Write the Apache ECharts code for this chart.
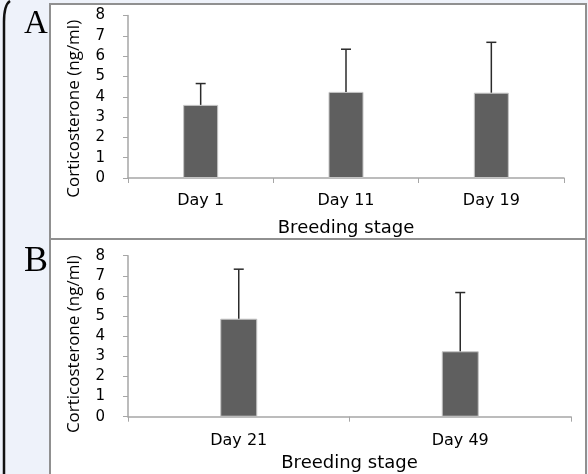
<!DOCTYPE html>
<html>
<head>
<meta charset="utf-8">
<script src="https://cdn.jsdelivr.net/npm/echarts@6/dist/echarts.min.js"></script>
<style>
html,body{margin:0;padding:0;background:#eef2fa;}
#chart{width:588px;height:474px;}
</style>
</head>
<body>
<div id="chart"></div>
<script>
// panel A
var stagesA=['Day 1','Day 11','Day 19'];
var meanA=[3.6,4.24,4.2];
var upperA=[4.65,6.34,6.68];
// panel B
var stagesB=['Day 21','Day 49'];
var meanB=[4.87,3.25];
var upperB=[7.33,6.17];
var yTicks=[0,1,2,3,4,5,6,7,8];

var axisGray='#a6a6a6';
var tickFont='DejaVu Sans';

function errorSeries(axisIdx,means,uppers){
	var data=[];
	for(var i=0;i<means.length;i++){data.push([i,means[i],uppers[i]]);}
	return {
		type:'custom',
		xAxisIndex:axisIdx,
		yAxisIndex:axisIdx,
		z:5,
		data:data,
		renderItem:function(params,api){
			var lo=api.coord([api.value(0),api.value(1)]);
			var hi=api.coord([api.value(0),api.value(2)]);
			var half=5;
			var st={stroke:'#2b2b2b',lineWidth:1.5};
			return {type:'group',children:[
				{type:'line',shape:{x1:lo[0],y1:lo[1],x2:hi[0],y2:hi[1]},style:st},
				{type:'line',shape:{x1:hi[0]-half,y1:hi[1],x2:hi[0]+half,y2:hi[1]},style:st}
			]};
		}
	};
}

function xAxis(idx,cats,labelMargin,nameGap){
	return {
		type:'category',gridIndex:idx,data:cats,
		name:'Breeding stage',nameLocation:'middle',nameGap:nameGap,
		nameTextStyle:{fontFamily:tickFont,fontSize:18,color:'#000'},
		axisLine:{lineStyle:{color:axisGray,width:1.5}},
		axisTick:{show:true,length:5,lineStyle:{color:axisGray}},
		axisLabel:{fontFamily:tickFont,fontSize:16,color:'#000',margin:labelMargin}
	};
}

function yAxis(idx,shift){
	return {
		type:'value',gridIndex:idx,min:yTicks[0],max:yTicks[yTicks.length-1],interval:1,
		name:'Corticosterone (ng/ml)',nameLocation:'middle',nameRotate:90,nameGap:45,
		nameTextStyle:{fontFamily:'Open Sans',fontSize:17,color:'#000',padding:[0,shift,0,0]},
		splitLine:{show:false},
		axisLine:{show:true,lineStyle:{color:axisGray,width:1.5}},
		axisTick:{show:true,length:5,lineStyle:{color:axisGray}},
		axisLabel:{fontFamily:tickFont,fontSize:15,color:'#000',margin:23}
	};
}

var myChart=echarts.init(document.getElementById('chart'),null,{renderer:'canvas'});
var option={
	backgroundColor:'#eef2fa',
	animation:false,
	graphic:[
		{type:'rect',z:-10,shape:{x:50,y:4,width:536,height:235},style:{fill:'#fff',stroke:'#909090',lineWidth:2}},
		{type:'rect',z:-10,shape:{x:50,y:239,width:536,height:245},style:{fill:'#fff',stroke:'#909090',lineWidth:2}},
		// left bracket
		{type:'bezierCurve',z:-5,shape:{x1:10,y1:1,cpx1:4,cpy1:5,x2:4,y2:22},style:{fill:null,stroke:'#111',lineWidth:2.5}},
		{type:'line',z:-5,shape:{x1:4,y1:22,x2:4,y2:474},style:{stroke:'#111',lineWidth:2.5}},
		{type:'text',left:24,top:8,style:{text:'A',font:'33px "Liberation Serif"',fill:'#000'}},
		{type:'text',left:24,top:244,style:{text:'B',font:'36px "Liberation Serif"',fill:'#000'}}
	],
	grid:[
		{left:128,right:24,top:15.5,bottom:296},
		{left:128,right:17,top:255.7,bottom:57.3}
	],
	xAxis:[xAxis(0,stagesA,15,41),xAxis(1,stagesB,16,38)],
	yAxis:[yAxis(0,24),yAxis(1,16)],
	series:[
		{type:'bar',xAxisIndex:0,yAxisIndex:0,data:meanA,barWidth:35,
			itemStyle:{color:'#5f5f5f',borderColor:'#c4c4c4',borderWidth:1}},
		errorSeries(0,meanA,upperA),
		{type:'bar',xAxisIndex:1,yAxisIndex:1,data:meanB,barWidth:37,
			itemStyle:{color:'#5f5f5f',borderColor:'#c4c4c4',borderWidth:1}},
		errorSeries(1,meanB,upperB)
	]
};
myChart.setOption(option);
</script>
</body>
</html>
